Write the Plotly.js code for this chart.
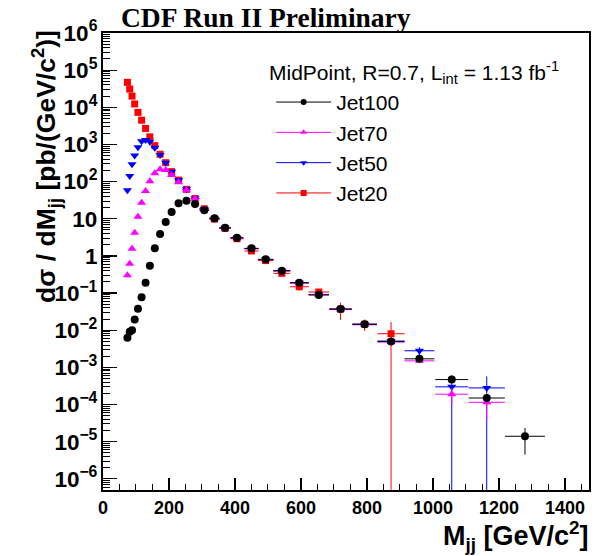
<!DOCTYPE html>
<html>
<head>
<meta charset="utf-8">
<script src="https://cdn.plot.ly/plotly-3.0.1.min.js"></script>
<style>html,body{margin:0;padding:0;background:#fff;}#chart{width:602px;height:556px;}</style>
</head>
<body>
<div id="chart"></div>
<script>
// Dijet mass bin centres (GeV/c^2) and half bin widths
const mass = [74, 81, 88, 96, 106, 117, 129, 142, 157, 173, 190, 208, 229, 253, 279, 307, 338, 370, 406, 450, 493, 542, 595, 654, 720, 793, 873, 959, 1057, 1163, 1279];
const halfWidth = [3.5, 3.5, 4, 4.5, 5, 5.5, 6, 6.5, 7.5, 8, 9, 10, 11, 12, 13, 14.5, 16, 17.5, 19.5, 21.5, 23.5, 25.5, 28.5, 31, 34, 37, 41, 45.5, 50, 55, 60.5];

// Jet100 (all 31 bins)
const jet100 = [6.3e-3, 9.1e-3, 1.0e-2, 0.0196, 0.038, 0.077, 0.19, 0.545, 1.6, 3.9, 8.2, 15.2, 26, 30.6, 25, 16.9, 10.3, 5.7, 3.1, 1.6, 0.81, 0.40, 0.19, 0.089, 0.037, 0.0144, 5.0e-3, 1.7e-3, 4.7e-4, 1.5e-4, 1.4e-5];
const jet100Err = [1e-4, 1.5e-4, 2e-4, 3e-4, 5e-4, 1e-3, 2e-3, 5e-3, 0.01, 0.03, 0.05, 0.1, 0.15, 0.2, 0.15, 0.1, 0.06, 0.04, 0.02, 0.012, 0.007, 0.004, 0.002, 0.0012, 0.0006, 0.0003, 1.5e-4, 8e-5, 3.5e-5, 1.8e-5, 0.95e-5];

// Jet70 (first 30 bins)
const jet70 = [0.30, 0.62, 1.56, 4.2, 11.4, 27, 56, 102, 167, 214, 205, 151, 96, 59, 35, 18.2, 10.1, 5.6, 3.0, 1.55, 0.8, 0.39, 0.185, 0.09, 0.036, 0.014, 4.8e-3, 1.5e-3, 1.9e-4, 1.15e-4];
const jet70Err = [0.01, 0.02, 0.04, 0.08, 0.2, 0.4, 0.8, 1.5, 2, 3, 3, 2.5, 1.5, 1, 0.5, 0.3, 0.2, 0.1, 0.05, 0.03, 0.015, 0.008, 0.004, 0.002, 0.001, 0.0005, 2e-4, 1e-4, 9e-5, 7.7e-5];

// Jet50 (first 30 bins)
const jet50 = [59, 142, 292, 505, 838, 1215, 1318, 1186, 818, 520, 323, 185, 110, 62, 35, 18.4, 10.2, 5.7, 3.05, 1.58, 0.80, 0.40, 0.19, 0.092, 0.037, 0.0146, 5.1e-3, 2.8e-3, 3.0e-4, 2.8e-4];
const jet50Err = [1, 2, 4, 6, 10, 15, 15, 14, 10, 6, 4, 2.5, 1.5, 1, 0.5, 0.3, 0.2, 0.1, 0.05, 0.03, 0.015, 0.008, 0.004, 0.002, 0.001, 0.0005, 2e-4, 7e-4, 3.1e-4, 2.9e-4];

// Jet20 (first 27 bins)
const jet20 = [4.7e4, 3.1e4, 2.0e4, 1.23e4, 7.3e3, 4.5e3, 2.7e3, 1.6e3, 930, 545, 323, 185, 110, 62, 35, 18.6, 9.8, 5.5, 2.9, 1.36, 0.75, 0.34, 0.148, 0.107, 0.037, 0.0145, 8.05e-3];
const jet20Err = [300, 200, 150, 100, 60, 40, 25, 15, 10, 6, 4, 2.5, 1.5, 1, 0.6, 0.4, 0.25, 0.15, 0.1, 0.05, 0.03, 0.02, 0.03, 0.015, 0.018, 0.005, 0.0085];

const seriesNames = ['Jet100', 'Jet70', 'Jet50', 'Jet20'];
const seriesColors = ['#000000', '#ff00ff', '#0000ff', '#ff0000'];
const seriesSymbols = ['circle', 'triangle-up', 'triangle-down', 'square'];
const seriesSizes = [8, 8, 8, 7];
const seriesData = [jet100, jet70, jet50, jet20];
const seriesErr = [jet100Err, jet70Err, jet50Err, jet20Err];

function dataTrace(i) {
  const n = seriesData[i].length;
  return {
    type: 'scatter', mode: 'markers', name: seriesNames[i], showlegend: false,
    x: mass.slice(0, n), y: seriesData[i],
    error_x: {type: 'data', array: halfWidth.slice(0, n), color: seriesColors[i], thickness: 1, width: 0},
    error_y: {type: 'data', array: seriesErr[i], color: seriesColors[i], thickness: 1, width: 0},
    marker: {symbol: seriesSymbols[i], size: seriesSizes[i], color: seriesColors[i], line: {width: 0}}
  };
}
function legendTrace(i) {
  return {
    type: 'scatter', mode: 'lines+markers', name: seriesNames[i], legendgroup: 'g' + i,
    x: [null], y: [null],
    line: {color: seriesColors[i], width: 1},
    marker: {symbol: seriesSymbols[i], size: 6, color: seriesColors[i]}
  };
}

// draw order: Jet20 bottom, Jet100 on top
const traces = [dataTrace(3), dataTrace(2), dataTrace(1), dataTrace(0),
                legendTrace(0), legendTrace(1), legendTrace(2), legendTrace(3)];

const sans = 'Liberation Sans, Arial, sans-serif';
const layout = {
  width: 602, height: 556,
  margin: {l: 103, r: 13, t: 33, b: 66},
  paper_bgcolor: '#fff', plot_bgcolor: '#fff',
  title: {text: 'CDF Run II Preliminary', x: 121/602, xanchor: 'left', xref: 'container', y: 1 - 17/556, yanchor: 'middle',
          font: {family: 'Liberation Serif, Times New Roman, serif', size: 27.5, weight: 'bold', color: '#000'}},
  xaxis: {type: 'linear', range: [0, 1473], showgrid: false, zeroline: false,
          showline: true, linecolor: '#000', linewidth: 2, mirror: true,
          ticks: 'inside', ticklen: 12, tickwidth: 1.2, tickcolor: '#000',
          tickmode: 'linear', tick0: 0, dtick: 200,
          minor: {ticks: 'inside', ticklen: 6, tickwidth: 1, tickcolor: '#000', dtick: 50, showgrid: false},
          tickfont: {family: sans, size: 18, weight: 'bold', color: '#000'}},
  yaxis: {type: 'log', range: [-6.3, 6], showgrid: false, zeroline: false,
          showline: true, linecolor: '#000', linewidth: 2, mirror: true,
          ticks: 'inside', ticklen: 14, tickwidth: 1.2, tickcolor: '#000',
          tickmode: 'linear', tick0: 0, dtick: 1, exponentformat: 'power',
          minor: {ticks: 'inside', ticklen: 7, tickwidth: 1, tickcolor: '#000', dtick: 'D1', showgrid: false},
          tickfont: {family: sans, size: 18, weight: 'bold', color: '#000'}},
  legend: {x: 0.346, xanchor: 'left', y: 0.893, yanchor: 'top', bgcolor: 'rgba(0,0,0,0)',
           font: {family: sans, size: 21, color: '#000'},
           itemwidth: 55, tracegroupgap: 0, traceorder: 'grouped'},
  annotations: [
    {text: 'MidPoint, R=0.7, L<sub>int</sub> = 1.13 fb<sup>-1</sup>', xref: 'paper', yref: 'paper',
     x: (267 - 103) / 486, xanchor: 'left', y: (490 - 72) / 457, yanchor: 'middle', showarrow: false,
     font: {family: sans, size: 21, color: '#000'}},
    {text: 'M<sub>jj</sub> [GeV/c<sup>2</sup>]', xref: 'paper', yref: 'paper', x: 1.004, xanchor: 'right', y: -0.055, yanchor: 'top',
     showarrow: false, font: {family: sans, size: 27, weight: 'bold', color: '#000'}},
    {text: 'd\u03c3 / dM<sub>jj</sub> [pb/(GeV/c<sup>2</sup>)]', xref: 'paper', yref: 'paper', x: (46 - 103) / 486, xanchor: 'center',
     y: 1.01, yanchor: 'top', textangle: -90, showarrow: false, font: {family: sans, size: 26.5, weight: 'bold', color: '#000'}}
  ]
};

Plotly.newPlot('chart', traces, layout, {displayModeBar: false, staticPlot: true});
</script>
</body>
</html>
